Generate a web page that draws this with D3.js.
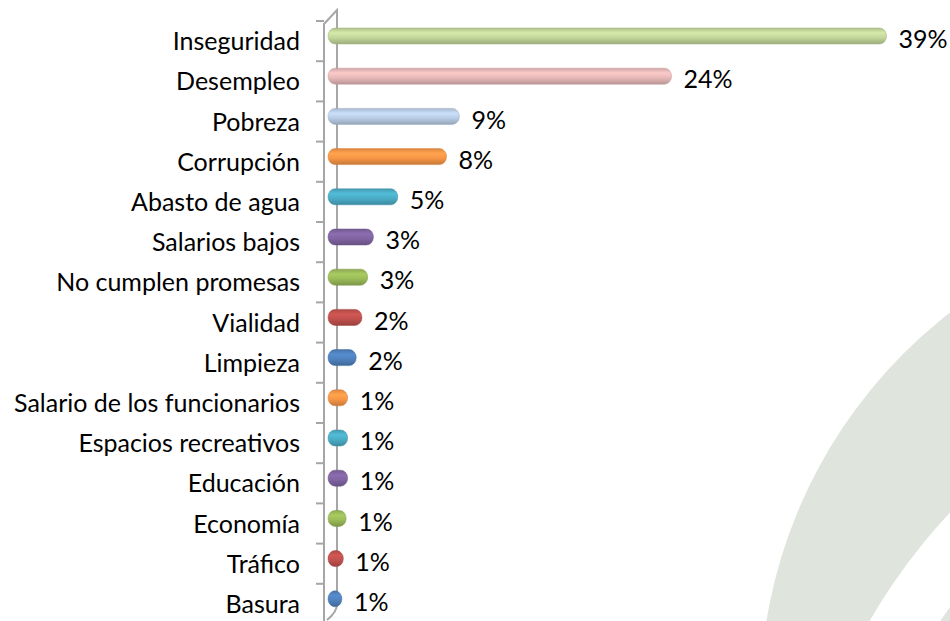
<!DOCTYPE html>
<html>
<head>
<meta charset="utf-8">
<script src="https://cdn.jsdelivr.net/npm/d3@7"></script>
<style>
  html, body { margin: 0; padding: 0; background: #fff; }
  svg { display: block; }
</style>
</head>
<body>
<script>
// categories and values (percent)
const categories = ['Inseguridad', 'Desempleo', 'Pobreza', 'Corrupción', 'Abasto de agua',
    'Salarios bajos', 'No cumplen promesas', 'Vialidad', 'Limpieza', 'Salario de los funcionarios',
    'Espacios recreativos', 'Educación', 'Economía', 'Tráfico', 'Basura'];
const values = [38.9, 23.9, 9.1, 8.2, 4.8, 3.1, 2.7, 2.3, 1.9, 1.3, 1.3, 1.3, 1.2, 1.0, 0.9];
const labels = ['39%', '24%', '9%', '8%', '5%', '3%', '3%', '2%', '2%', '1%', '1%', '1%', '1%', '1%', '1%'];
const colors = ['#c3d69b', '#e6b9b8', '#b9cde5', '#f79646', '#4bacc6', '#8064a2', '#9bbb59', '#c0504d',
    '#4f81bd', '#f79646', '#4bacc6', '#8064a2', '#9bbb59', '#c0504d', '#4f81bd'];

const draw = () => {
    const width = 950,
        height = 621;

    const svg = d3.select('body')
        .append('svg')
        .attr('width', width)
        .attr('height', height);

    //watermark bands in the lower right corner
    const wm = svg.append('g');
    wm.append('circle').attr('cx', 1250).attr('cy', 700).attr('r', 490).attr('fill', '#dfe5dd');
    wm.append('circle').attr('cx', 1376).attr('cy', 912).attr('r', 584).attr('fill', '#fff');
    wm.append('circle').attr('cx', 1376).attr('cy', 912).attr('r', 524).attr('fill', '#dfe5dd');
    wm.append('circle').attr('cx', 1376).attr('cy', 912).attr('r', 440).attr('fill', '#fff');

    //scales
    const x = d3.scaleLinear()
        .domain([0, 39])
        .range([329, 888]);

    const y = d3.scaleBand()
        .domain(categories)
        .range([21, 624])
        .padding(0);

    const barH = 16,
        barOff = 15; // 3d depth shifts bars upward in their band

    //gradients for a cylinder look
    const defs = svg.append('defs');
    colors.forEach((c, i) => {
        const g = defs.append('linearGradient')
            .attr('id', 'grad' + i)
            .attr('x1', 0).attr('y1', 0).attr('x2', 0).attr('y2', 1);
        const base = d3.color(c);
        g.append('stop').attr('offset', '0%').attr('stop-color', base.darker(0.3));
        g.append('stop').attr('offset', '30%').attr('stop-color', base.brighter(0.25));
        g.append('stop').attr('offset', '60%').attr('stop-color', base);
        g.append('stop').attr('offset', '100%').attr('stop-color', base.darker(0.6));
    });

    //axis wall lines
    const axisG = svg.append('g')
        .attr('stroke', '#a6a6a6')
        .attr('stroke-width', 2)
        .attr('fill', 'none');

    axisG.append('path')
        .attr('d', 'M324,621 L324,24 L337,10 L337,604 Q337,612 327,620');

    //tick marks at band edges
    const edges = categories.map(c => y(c)).concat([y.range()[1]]);
    axisG.selectAll('line')
        .data(edges)
        .enter()
        .append('line')
        .attr('x1', 316)
        .attr('x2', 324)
        .attr('y1', d => d)
        .attr('y2', d => d);

    //bars
    svg.append('g')
        .selectAll('rect')
        .data(values)
        .enter()
        .append('rect')
        .attr('x', x(0) - 1)
        .attr('y', (d, i) => y(categories[i]) + barOff - barH / 2)
        .attr('width', d => x(d) - x(0) + 1)
        .attr('height', barH)
        .attr('rx', 7)
        .attr('ry', 8)
        .attr('fill', (d, i) => `url(#grad${i})`)
        .attr('stroke', (d, i) => d3.color(colors[i]).darker(0.5))
        .attr('stroke-opacity', 0.5)
        .attr('stroke-width', 1);

    //category labels
    svg.append('g')
        .selectAll('text')
        .data(categories)
        .enter()
        .append('text')
        .attr('x', 300)
        .attr('y', d => y(d) + y.bandwidth() / 2 + 9)
        .attr('text-anchor', 'end')
        .attr('font-family', 'Lato, sans-serif')
        .attr('font-size', 25)
        .attr('fill', '#000')
        .text(d => d);

    //value labels
    svg.append('g')
        .selectAll('text')
        .data(values)
        .enter()
        .append('text')
        .attr('x', d => x(d) + 12)
        .attr('y', (d, i) => y(categories[i]) + y.bandwidth() / 2 + 7)
        .attr('font-family', 'Lato, sans-serif')
        .attr('font-size', 25)
        .attr('fill', '#000')
        .text((d, i) => labels[i]);
}

draw();
</script>
</body>
</html>
